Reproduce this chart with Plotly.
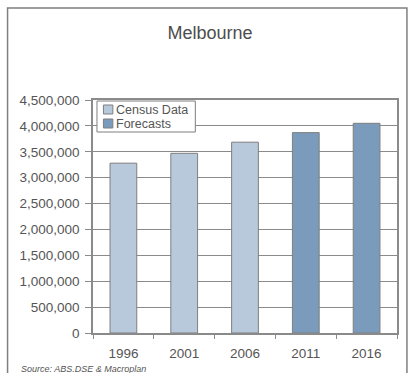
import plotly.graph_objects as go

# Population of Melbourne: census counts and forecasts
census_years = ["1996", "2001", "2006"]
census_values = [3280000, 3470000, 3685000]
forecast_years = ["2011", "2016"]
forecast_values = [3870000, 4050000]
all_years = census_years + forecast_years

series_names = ["Census Data", "Forecasts"]
series_colors = ["#b8c9dc", "#7a9bbb"]

W, H = 410, 373
ML, MR, MT, MB = 93, 11, 100, 40
PW, PH = W - ML - MR, H - MT - MB

text_color = "#555555"
line_color = "#8a8a8a"
font_family = "Liberation Sans, Arial, sans-serif"


def px_x(px):
    return (px - ML) / PW


def px_y(py):
    return (H - MB - py) / PH


fig = go.Figure()
for name, color, xs, ys in [
    (series_names[0], series_colors[0], census_years, census_values),
    (series_names[1], series_colors[1], forecast_years, forecast_values),
]:
    fig.add_trace(go.Bar(
        x=xs, y=ys, name=name,
        marker=dict(color=color, line=dict(color="#7f7f7f", width=1)),
        width=0.44, offsetgroup="a", showlegend=False,
    ))

shapes = [
    # outer frame
    dict(type="rect", xref="paper", yref="paper",
         x0=px_x(7), x1=px_x(409), y0=px_y(8), y1=px_y(390),
         line=dict(color="#7f7f7f", width=1.5), layer="below"),
    # legend box
    dict(type="rect", xref="paper", yref="paper",
         x0=px_x(97), x1=px_x(196), y0=px_y(132), y1=px_y(101),
         line=dict(color="#7f7f7f", width=1), fillcolor="white", layer="above"),
]
annotations = []
for i, (name, color) in enumerate(zip(series_names, series_colors)):
    cy = 109.5 + i * 14
    shapes.append(dict(type="rect", xref="paper", yref="paper",
                       x0=px_x(103.5), x1=px_x(113), y0=px_y(cy + 4.5), y1=px_y(cy - 4.5),
                       line=dict(color="#7f7f7f", width=1), fillcolor=color, layer="above"))
    annotations.append(dict(text=name, xref="paper", yref="paper",
                            x=px_x(114), y=px_y(cy), xanchor="left", yanchor="middle",
                            showarrow=False, font=dict(size=12.5, color=text_color)))

annotations.append(dict(text="<i>Source: ABS.DSE & Macroplan</i>", xref="paper", yref="paper",
                        x=px_x(19), y=px_y(369), xanchor="left", yanchor="middle",
                        showarrow=False, font=dict(size=9, color=text_color)))

fig.update_layout(
    width=W, height=H,
    margin=dict(l=ML, r=MR, t=MT, b=MB),
    paper_bgcolor="white", plot_bgcolor="white",
    font=dict(family=font_family, color=text_color, size=13),
    barmode="overlay",
    title=dict(text="Melbourne", x=210 / W, xanchor="center",
               y=1 - 33 / H, yanchor="middle",
               font=dict(size=18, color="#4d4d4d")),
    shapes=shapes, annotations=annotations,
    xaxis=dict(
        type="category", categoryorder="array", categoryarray=all_years,
        showline=True, linecolor=line_color, linewidth=1.5, mirror=True,
        ticks="outside", tickson="boundaries", ticklen=4, tickcolor=line_color,
        ticklabelstandoff=7,
        showgrid=False, tickfont=dict(size=13.5, color=text_color),
    ),
    yaxis=dict(
        range=[0, 4500000], tickvals=list(range(0, 4500001, 500000)),
        tickformat=",d",
        showline=True, linecolor=line_color, linewidth=1.5, mirror=True,
        ticks="outside", ticklen=6, tickcolor=line_color,
        ticklabelstandoff=3,
        showgrid=True, gridcolor=line_color, gridwidth=1,
        zeroline=False, tickfont=dict(size=13.5, color=text_color),
    ),
)

fig.write_html("out.html")
